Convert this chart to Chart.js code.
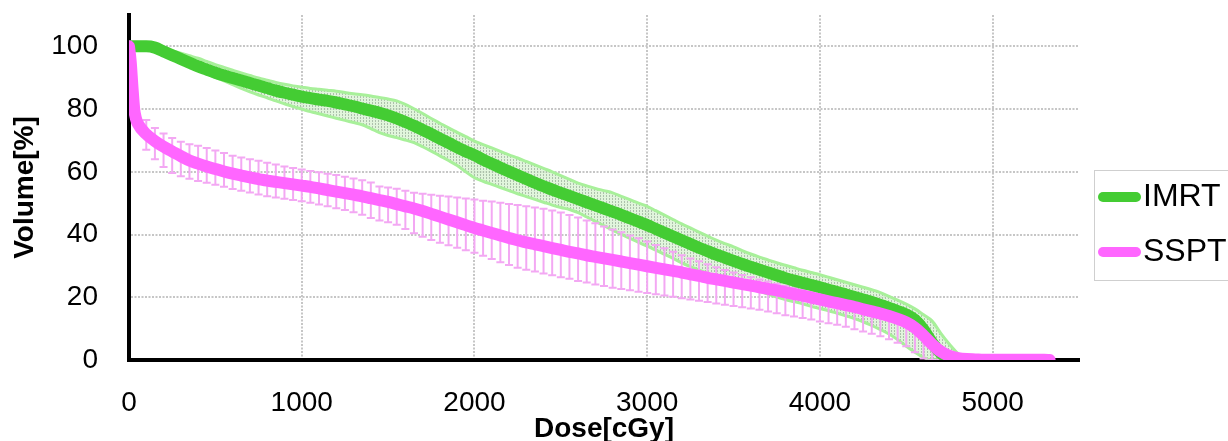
<!DOCTYPE html>
<html>
<head>
<meta charset="utf-8">
<script src="https://cdn.jsdelivr.net/npm/chart.js@4"></script>
<style>
html,body{margin:0;padding:0;background:#fff;}
#wrap{width:1228px;height:441px;position:relative;overflow:hidden;}
canvas{display:block;}
</style>
</head>
<body>
<div id="wrap"><canvas id="c" width="1228" height="441"></canvas></div>
<script>
// ---- data ----
const seriesNames = ['IMRT', 'SSPT'];
const xTickValues = [0, 1000, 2000, 3000, 4000, 5000];
const yTickValues = [0, 20, 40, 60, 80, 100];

const doses = [0,10,20,30,40,
50,100,150,200,250,300,350,400,450,500,
550,600,650,700,750,800,850,900,950,1000,
1050,1100,1150,1200,1250,1300,1350,1400,1450,1500,
1550,1600,1650,1700,1750,1800,1850,1900,1950,2000,
2050,2100,2150,2200,2250,2300,2350,2400,2450,2500,
2550,2600,2650,2700,2750,2800,2850,2900,2950,3000,
3050,3100,3150,3200,3250,3300,3350,3400,3450,3500,
3550,3600,3650,3700,3750,3800,3850,3900,3950,4000,
4050,4100,4150,4200,4250,4300,4350,4400,4450,4500,
4550,4600,4650,4700,4750,4800,4850,4900,4950,5000,
5050,5100,5150,5200,5250,5300,5330];

const imrtMean = [100,100,100,100,100,
100,100,99.6,98.4,97.2,96.0,94.8,93.6,92.6,91.6,
90.7,89.9,89.1,88.3,87.5,86.7,85.9,85.2,84.6,84.0,
83.5,83.0,82.6,82.1,81.5,80.9,80.2,79.5,78.8,78.0,
77.0,75.9,74.7,73.4,72.0,70.6,69.2,67.8,66.5,65.3,
63.9,62.6,61.3,60.1,58.9,57.7,56.5,55.4,54.3,53.3,
52.3,51.3,50.3,49.3,48.3,47.3,46.3,45.2,44.1,43.0,
41.8,40.6,39.4,38.2,37.0,35.8,34.7,33.6,32.6,31.6,
30.6,29.7,28.8,27.9,27.0,26.1,25.3,24.6,23.9,23.2,
22.4,21.7,20.9,20.1,19.3,18.5,17.6,16.6,15.6,14.5,
12.8,9.7,5.5,2.2,0.5,0,0,0,0,0,
0,0,0,0,0,0,0];

const imrtHigh = [100,100,100,100,100,
100,100,100,99.4,98.6,97.8,97.0,96.2,95.2,94.2,
93.3,92.4,91.5,90.7,89.9,89.2,88.5,87.9,87.4,87.0,
86.6,86.3,86.0,85.7,85.3,84.9,84.6,84.2,83.7,83.2,
82.6,81.5,80.1,78.6,77.0,75.5,74.0,72.6,71.2,69.8,
68.7,67.6,66.5,65.4,64.4,63.3,62.2,61.1,60.0,58.8,
57.6,56.4,55.5,54.7,54.0,53.3,52.2,51.1,50.0,49.0,
47.6,46.2,44.8,43.4,42.1,40.8,39.5,38.2,37.1,36.1,
34.9,33.8,32.8,31.9,31.0,30.2,29.4,28.6,27.9,27.2,
26.4,25.6,24.8,24.0,23.2,22.4,21.5,20.3,19.1,17.8,
16.3,14.4,12.4,8.5,5.0,2.0,0.4,0,0,0,
0,0,0,0,0,0,0];

const imrtLow = [100,100,100,100,100,
100,100,99.2,97.9,96.6,95.2,93.8,92.5,91.3,90.1,
89.0,87.8,86.6,85.5,84.5,83.6,82.6,81.7,80.8,80.0,
79.2,78.5,77.8,77.1,76.4,75.7,75.0,73.8,72.5,71.6,
70.9,70.1,69.3,68.0,66.6,65.1,63.6,62.0,60.0,58.1,
57.0,56.0,55.0,54.0,53.0,52.1,51.2,50.3,49.4,48.6,
48.0,47.0,45.6,44.2,42.8,41.4,40.1,38.8,37.5,36.3,
35.0,33.7,32.4,31.0,29.8,28.7,27.6,26.5,25.6,24.7,
24.0,23.0,22.0,21.0,20.1,19.3,18.6,17.9,17.1,16.4,
15.7,14.9,14.1,13.2,12.2,11.0,9.7,8.3,6.5,4.4,
2.5,0.8,0,0,0,0,0,0,0,0,
0,0,0,0,0,0,0];

const ssptMean = [100,95,87,80,77,
75.5,72.0,69.8,68.0,66.5,65.0,63.6,62.6,61.7,60.9,
60.1,59.4,58.8,58.2,57.7,57.2,56.8,56.4,56.0,55.6,
55.2,54.7,54.2,53.7,53.2,52.7,52.2,51.6,51.0,50.4,
49.7,49.0,48.3,47.5,46.6,45.7,44.8,43.9,43.0,42.1,
41.3,40.5,39.7,38.9,38.2,37.5,36.9,36.3,35.7,35.1,
34.5,34.0,33.4,32.9,32.4,31.9,31.4,30.9,30.4,29.9,
29.4,28.9,28.4,27.9,27.3,26.8,26.2,25.7,25.2,24.7,
24.2,23.7,23.2,22.7,22.2,21.6,21.0,20.5,19.9,19.3,
18.7,18.1,17.5,16.9,16.2,15.5,14.8,14.0,13.1,12.0,
10.3,7.8,5.0,2.7,1.3,0.6,0.3,0.2,0.1,0.1,
0.1,0.1,0.1,0.1,0.1,0.1,0];

const ssptHigh = [100,95,87,80,77,
75.5,76.5,74.0,72.2,70.8,69.6,68.8,68.3,67.6,66.8,
66.0,65.1,64.6,64.0,63.5,62.9,62.3,61.7,61.2,60.7,
60.3,59.9,59.4,59.0,58.4,57.9,57.3,56.6,55.3,55.0,
54.6,54.0,53.3,53.0,52.7,52.4,52.1,51.8,51.5,51.2,
50.8,50.5,50.1,49.7,49.4,49.0,48.6,48.2,47.7,47.0,
46.2,45.4,44.5,43.6,42.6,41.6,40.7,39.7,38.8,37.8,
36.7,35.6,34.5,33.4,32.4,31.5,30.5,29.6,28.7,27.9,
27.1,26.4,25.7,25.0,24.3,23.7,23.0,22.4,21.7,21.1,
20.3,19.6,18.9,18.2,17.5,16.8,16.1,15.2,14.1,12.9,
11.3,9.2,6.7,4.0,1.3,0.6,0.3,0.2,0.1,0.1,
0.1,0.1,0.1,0.1,0.1,0.1,0];

const ssptLow = [100,95,87,80,77,
75.5,67.0,64.0,61.5,59.6,58.6,57.8,57.1,56.5,55.9,
55.2,54.5,54.0,53.4,52.8,52.2,51.8,51.4,51.0,50.6,
50.1,49.6,49.0,48.4,47.8,47.1,46.3,45.3,44.5,43.9,
43.1,41.8,40.4,39.3,38.3,37.4,36.6,35.8,35.0,34.2,
33.2,32.2,31.2,30.3,29.4,28.8,28.2,27.6,27.0,26.4,
25.9,25.2,24.7,24.1,23.6,23.0,22.6,22.2,21.8,21.4,
21.0,20.6,20.2,19.7,19.3,18.9,18.5,18.0,17.6,17.2,
16.8,16.4,16.0,15.5,14.9,14.3,13.9,13.4,12.9,12.3,
11.7,11.2,10.6,9.8,9.1,8.4,7.6,6.6,5.5,4.4,
2.5,0.5,0,0,0,0.6,0.3,0.2,0.1,0.1,
0.1,0.1,0.1,0.1,0.1,0.1,0];

// ---- styling ----
const FONT = "'Liberation Sans', Arial, Helvetica, sans-serif";
const GREEN = '#44cc33';
const PINK = '#ff66ff';
const GREEN_EDGE = '#a8f09a';
const PINK_BAR = '#f3a8f3';

const canvas = document.getElementById('c');
const ctx = canvas.getContext('2d');

// hatch pattern for the IMRT SD band
const pc = document.createElement('canvas');
pc.width = 3; pc.height = 3;
const pctx = pc.getContext('2d');
pctx.fillStyle = 'rgba(215,242,208,0.75)';
pctx.fillRect(0, 0, 3, 3);
pctx.fillStyle = 'rgba(165,185,165,0.85)';
pctx.fillRect(0, 0, 1, 2);
const bandPattern = ctx.createPattern(pc, 'repeat');

const pts = (arr) => doses.map((d, i) => ({x: d, y: arr[i]}));

const ssptErrorBars = {
  id: 'ssptErrorBars',
  beforeDatasetDraw(chart, args) {
    if (args.index !== 0) return;
    const {ctx, chartArea, scales: {x, y}} = chart;
    ctx.save();
    ctx.beginPath();
    ctx.rect(chartArea.left, chartArea.top, chartArea.width, chartArea.height);
    ctx.clip();
    ctx.strokeStyle = PINK_BAR;
    ctx.lineWidth = 2;
    ctx.beginPath();
    doses.forEach((d, i) => {
      if (ssptHigh[i] - ssptLow[i] < 0.3) return;
      const px = x.getPixelForValue(d);
      const yh = y.getPixelForValue(ssptHigh[i]);
      const yl = y.getPixelForValue(ssptLow[i]);
      ctx.moveTo(px, yh); ctx.lineTo(px, yl);
      ctx.moveTo(px - 4, yh); ctx.lineTo(px + 4, yh);
      ctx.moveTo(px - 4, yl); ctx.lineTo(px + 4, yl);
    });
    ctx.stroke();
    ctx.restore();
  }
};

const boxLegend = {
  id: 'boxLegend',
  afterDraw(chart) {
    const {ctx, chartArea} = chart;
    const left = chartArea.right + 15;
    const top = 170;
    ctx.save();
    ctx.strokeStyle = '#cfcfcf';
    ctx.lineWidth = 1;
    ctx.strokeRect(left + 0.5, top + 0.5, 200, 110);
    const colors = [GREEN, PINK];
    const rows = [197, 252];
    seriesNames.forEach((name, i) => {
      ctx.strokeStyle = colors[i];
      ctx.lineWidth = 10;
      ctx.lineCap = 'round';
      ctx.beginPath();
      ctx.moveTo(left + 9, rows[i]);
      ctx.lineTo(left + 42, rows[i]);
      ctx.stroke();
      ctx.fillStyle = '#000';
      ctx.font = '32px ' + FONT;
      ctx.textBaseline = 'middle';
      ctx.textAlign = 'left';
      ctx.fillText(name, left + 49, rows[i]);
    });
    ctx.restore();
  }
};

const gridCommon = {color: '#c6c6c6', lineWidth: 2, drawTicks: false};
const borderCommon = {display: true, color: '#000', width: 4, dash: [2, 1.5]};

new Chart(ctx, {
  type: 'line',
  data: {
    datasets: [
      {label: seriesNames[0], data: pts(imrtMean), borderColor: GREEN, borderWidth: 12,
       pointRadius: 0, fill: false, order: 1, clip: 0,
       cubicInterpolationMode: 'monotone', borderJoinStyle: 'round', borderCapStyle: 'butt'},
      {label: seriesNames[1], data: pts(ssptMean), borderColor: PINK, borderWidth: 12,
       pointRadius: 0, fill: false, order: 0, clip: 0,
       cubicInterpolationMode: 'monotone', borderJoinStyle: 'round', borderCapStyle: 'round'},
      {label: 'IMRT +SD', data: pts(imrtHigh), borderColor: GREEN_EDGE, borderWidth: 3,
       pointRadius: 0, fill: false, order: 3, clip: 0, cubicInterpolationMode: 'monotone'},
      {label: 'IMRT -SD', data: pts(imrtLow), borderColor: GREEN_EDGE, borderWidth: 3,
       pointRadius: 0, fill: {target: 2}, backgroundColor: bandPattern, order: 4, clip: 0,
       cubicInterpolationMode: 'monotone'}
    ]
  },
  options: {
    responsive: false,
    animation: false,
    devicePixelRatio: 1,
    layout: {padding: {top: 15, right: 149, left: 0, bottom: 0}},
    plugins: {legend: {display: false}, tooltip: {enabled: false}},
    scales: {
      x: {
        type: 'linear', min: 0, max: 5500,
        afterBuildTicks: (ax) => { ax.ticks = xTickValues.map(v => ({value: v})); },
        afterFit: (sc) => { sc.height = 81; sc.paddingLeft = 0; sc.paddingRight = 0; },
        ticks: {autoSkip: false, maxRotation: 0, padding: 26, color: '#000',
                font: {family: FONT, size: 28}, callback: (v) => String(v)},
        grid: gridCommon,
        border: borderCommon,
        title: {display: true, text: 'Dose[cGy]', color: '#000',
                font: {family: FONT, size: 28, weight: 'bold', lineHeight: 0.8},
                padding: {top: 0, bottom: 1}}
      },
      y: {
        type: 'linear', min: 0, max: 110,
        afterBuildTicks: (ax) => { ax.ticks = yTickValues.map(v => ({value: v})); },
        afterFit: (sc) => { sc.width = 129; sc.paddingTop = 0; sc.paddingBottom = 0; },
        ticks: {padding: 31, color: '#000', font: {family: FONT, size: 28},
                callback: (v) => String(v)},
        grid: gridCommon,
        border: borderCommon,
        title: {display: true, text: 'Volume[%]', color: '#000',
                font: {family: FONT, size: 28, weight: 'bold'},
                padding: {top: 8, bottom: 0}}
      }
    }
  },
  plugins: [ssptErrorBars, boxLegend]
});
</script>
</body>
</html>
